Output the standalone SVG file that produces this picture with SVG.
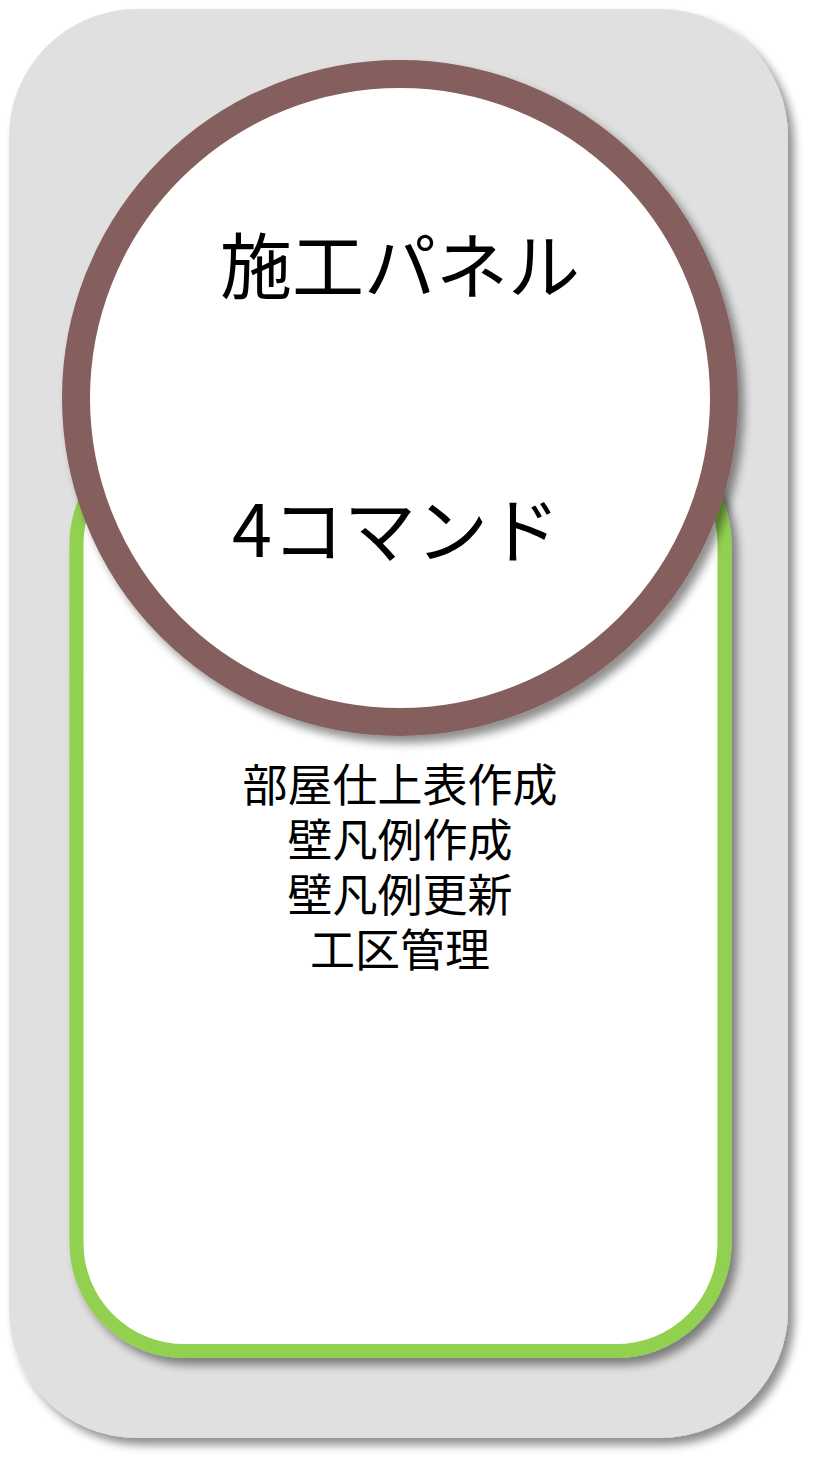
<svg xmlns="http://www.w3.org/2000/svg" width="818" height="1467" viewBox="0 0 818 1467">
  <defs>
    <filter id="shadow" x="-10%" y="-10%" width="125%" height="125%">
      <feGaussianBlur in="SourceAlpha" stdDeviation="5"/>
      <feOffset dx="6" dy="7" result="b"/>
      <feComponentTransfer><feFuncA type="linear" slope="0.45"/></feComponentTransfer>
      <feMerge><feMergeNode/><feMergeNode in="SourceGraphic"/></feMerge>
    </filter>
    <style>
      .lbl { font-family: "Noto Sans CJK JP", "Noto Sans", sans-serif; fill: #000; text-anchor: middle; }
      .big { font-size: 72px; }
      .small { font-size: 45px; }
    </style>
  </defs>
  <rect width="818" height="1467" fill="#ffffff"/>
  <g id="outer-panel">
    <rect x="9" y="9" width="779" height="1429" rx="128" ry="128" fill="#e0e0e0" filter="url(#shadow)"/>
  </g>
  <g id="command-list">
    <rect x="76.5" y="436" width="648" height="915" rx="108" ry="108" fill="#ffffff" stroke="#92d050" stroke-width="14" filter="url(#shadow)"/>
    <text class="lbl small" x="400" y="802">部屋仕上表作成</text>
    <text class="lbl small" x="400" y="857">壁凡例作成</text>
    <text class="lbl small" x="400" y="912">壁凡例更新</text>
    <text class="lbl small" x="400" y="967">工区管理</text>
  </g>
  <g id="title-circle">
    <circle cx="400" cy="398" r="324" fill="#ffffff" stroke="#855e5d" stroke-width="28" filter="url(#shadow)"/>
    <text class="lbl big" x="400" y="293">施工パネル</text>
    <text class="lbl big" x="396" y="557">4コマンド</text>
  </g>
  <g id="connectors"/>
</svg>
